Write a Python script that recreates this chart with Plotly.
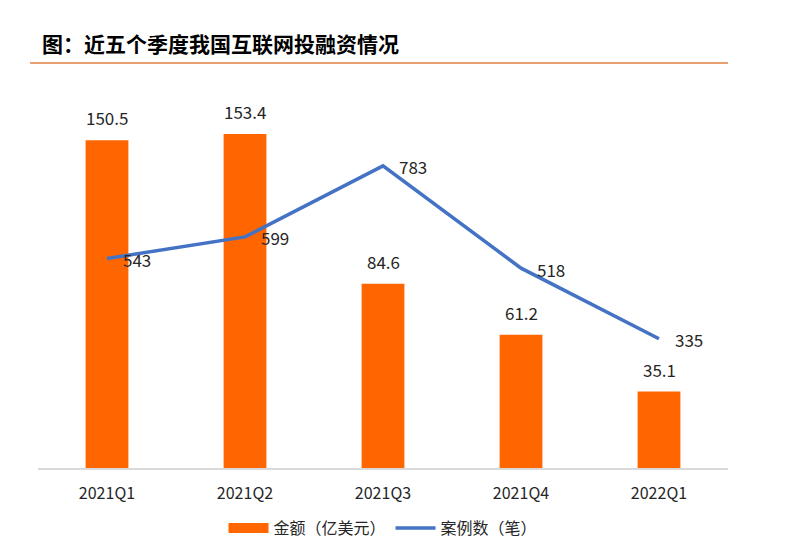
import plotly.graph_objects as go

quarters = ["2021Q1", "2021Q2", "2021Q3", "2021Q4", "2022Q1"]
amount = [150.5, 153.4, 84.6, 61.2, 35.1]
deals = [543, 599, 783, 518, 335]

FONT = "Noto Sans CJK SC"
TXT = "#262626"

fig = go.Figure()
fig.add_trace(go.Bar(
    x=quarters, y=amount, name="金额（亿美元）",
    marker=dict(color="#FF6600", line=dict(width=0)),
    width=0.31, showlegend=False,
))
# legend entry for the bars (wide orange rectangle like the reference)
fig.add_trace(go.Scatter(
    x=[None], y=[None], name="金额（亿美元）", mode="lines",
    line=dict(color="#FF6600", width=11),
))
fig.add_trace(go.Scatter(
    x=quarters, y=deals, name="案例数（笔）", yaxis="y2",
    mode="lines",
    line=dict(color="#4472C4", width=3.5),
    cliponaxis=False,
))

annotations = []
for q, v in zip(quarters, amount):
    annotations.append(dict(x=q, y=v, xref="x", yref="y", text=f"{v:.1f}",
                            showarrow=False, yanchor="bottom", yshift=8,
                            font=dict(size=17, color=TXT, family=FONT)))
for q, v in zip(quarters, deals):
    annotations.append(dict(x=q, y=v, xref="x", yref="y2", text=str(v),
                            showarrow=False, xanchor="left", xshift=14,
                            yanchor="middle", yshift=-1,
                            font=dict(size=17, color=TXT, family=FONT)))

fig.update_layout(
    width=800, height=560,
    paper_bgcolor="white", plot_bgcolor="white",
    margin=dict(l=30, r=80, t=68, b=100),
    font=dict(family=FONT, color=TXT, size=15),
    title=dict(text="<b>图：近五个季度我国互联网投融资情况</b>",
               x=34 / 800, xref="container", xanchor="left",
               y=1 - 37 / 560, yanchor="middle",
               font=dict(size=21, color="#000000", family=FONT)),
    xaxis=dict(showline=True, linecolor="#D9D9D9", linewidth=1.5,
               ticks="", tickfont=dict(size=16, color=TXT),
               ticklabelstandoff=10, showgrid=False),
    yaxis=dict(range=[0, 180], visible=False, showgrid=False),
    yaxis2=dict(range=[0, 1016], overlaying="y", side="right",
                visible=False, showgrid=False),
    showlegend=True,
    legend=dict(orientation="h", x=0.5, xanchor="center",
                y=-0.153, yanchor="middle",
                font=dict(size=16, color=TXT),
                itemwidth=40, traceorder="normal"),
    annotations=annotations,
    shapes=[dict(type="line", xref="paper", yref="paper",
                 x0=-0.0115, x1=1.0, y0=1.033, y1=1.033,
                 line=dict(color="#E8A070", width=2))],
)

fig.write_html("out.html")
